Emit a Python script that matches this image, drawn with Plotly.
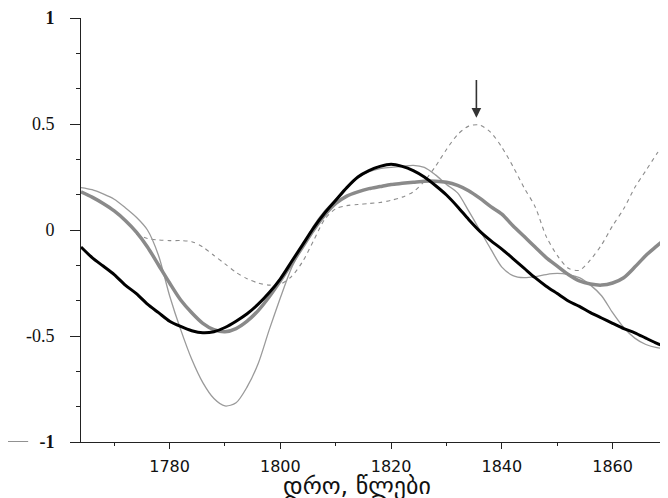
import plotly.graph_objects as go

years = list(range(1764, 1872, 2))

black_series = [-0.08, -0.13, -0.17, -0.21, -0.26, -0.30, -0.35, -0.39, -0.43, -0.455,
                -0.475, -0.485, -0.48, -0.46, -0.43, -0.395, -0.35, -0.295, -0.23, -0.15,
                -0.07, 0.01, 0.08, 0.14, 0.20, 0.25, 0.28, 0.30, 0.31, 0.30,
                0.28, 0.25, 0.21, 0.165, 0.11, 0.05, -0.005, -0.05, -0.09, -0.135,
                -0.18, -0.225, -0.265, -0.30, -0.335, -0.36, -0.39, -0.415, -0.44, -0.465,
                -0.485, -0.51, -0.535, -0.555]

thick_gray_series = [0.18, 0.155, 0.125, 0.09, 0.045, -0.01, -0.08, -0.165, -0.25, -0.33,
                     -0.39, -0.44, -0.47, -0.48, -0.465, -0.43, -0.38, -0.315, -0.24, -0.16,
                     -0.08, 0.0, 0.07, 0.125, 0.16, 0.18, 0.195, 0.205, 0.215, 0.22,
                     0.225, 0.23, 0.23, 0.225, 0.21, 0.185, 0.15, 0.11, 0.075, 0.02,
                     -0.03, -0.08, -0.13, -0.17, -0.21, -0.24, -0.255, -0.26, -0.25, -0.225,
                     -0.175, -0.12, -0.075, -0.03]

thin_gray_series = [0.20, 0.19, 0.17, 0.145, 0.105, 0.06, 0.0, -0.12, -0.31, -0.47,
                    -0.61, -0.72, -0.795, -0.83, -0.815, -0.74, -0.63, -0.47, -0.32, -0.18,
                    -0.08, 0.02, 0.09, 0.145, 0.20, 0.245, 0.275, 0.29, 0.295, 0.30,
                    0.305, 0.295, 0.26, 0.215, 0.175, 0.09, 0.0, -0.09, -0.175, -0.215,
                    -0.225, -0.22, -0.21, -0.205, -0.21, -0.225, -0.26, -0.31, -0.39, -0.46,
                    -0.51, -0.54, -0.555, -0.56]

dashed_years = list(range(1774, 1872, 2))
dashed_series = [-0.02, -0.04, -0.047, -0.05, -0.05, -0.055, -0.08, -0.12, -0.16, -0.20,
                 -0.23, -0.25, -0.26, -0.255, -0.22, -0.15, -0.05, 0.05, 0.10, 0.115,
                 0.12, 0.125, 0.13, 0.14, 0.155, 0.18, 0.23, 0.30, 0.38, 0.45,
                 0.49, 0.495, 0.46, 0.39, 0.30, 0.20, 0.11, -0.03, -0.12, -0.18,
                 -0.19, -0.14, -0.07, 0.02, 0.10, 0.20, 0.28, 0.36, 0.43]

x_tick_vals = [1780, 1800, 1820, 1840, 1860]
x_tick_text = ["1780", "1800", "1820", "1840", "1860"]
y_tick_vals = [-1, -0.5, 0, 0.5, 1]
y_tick_text = ["<b>-1</b>", "-0.5", "0", "0.5", "<b>1</b>"]
x_title = "დრო, წლები"
arrow_year = 1835.4
arrow_from = 0.715
arrow_to = 0.53

fig = go.Figure()
fig.add_trace(go.Scatter(x=dashed_years, y=dashed_series, mode="lines",
                         line=dict(color="#8c8c8c", width=1.1, dash="4px,4px", shape="spline", smoothing=0.8),
                         showlegend=False, hoverinfo="skip"))
fig.add_trace(go.Scatter(x=years, y=thin_gray_series, mode="lines",
                         line=dict(color="#9a9a9a", width=1.3, shape="spline", smoothing=0.8),
                         showlegend=False, hoverinfo="skip"))
fig.add_trace(go.Scatter(x=years, y=thick_gray_series, mode="lines",
                         line=dict(color="#8a8a8a", width=3.5, shape="spline", smoothing=0.8),
                         showlegend=False, hoverinfo="skip"))
fig.add_trace(go.Scatter(x=years, y=black_series, mode="lines",
                         line=dict(color="#000000", width=3, shape="spline", smoothing=0.8),
                         showlegend=False, hoverinfo="skip"))

fig.add_annotation(x=arrow_year, y=arrow_to, ax=arrow_year, ay=arrow_from,
                   xref="x", yref="y", axref="x", ayref="y", text="",
                   showarrow=True, arrowhead=2, arrowsize=1.2, arrowwidth=1.6, arrowcolor="#333333")

fig.add_annotation(x=0.470, y=-0.066, xref="paper", yref="paper", text=x_title,
                   showarrow=False, xanchor="center", yanchor="top",
                   font=dict(family="DejaVu Sans", size=24, color="#111111"))

fig.add_shape(type="line", xref="paper", yref="y", x0=-0.126, x1=-0.090, y0=-1, y1=-1,
              line=dict(color="#222222", width=1))

fig.update_layout(
    width=660, height=490,
    margin=dict(l=73, r=0, t=7, b=56),
    paper_bgcolor="white", plot_bgcolor="white",
    xaxis=dict(range=[1764, 1870], tickvals=x_tick_vals, ticktext=x_tick_text,
               showgrid=False, zeroline=False, showline=True, linecolor="#222222", linewidth=1,
               ticks="outside", ticklen=6, tickcolor="#222222", tickwidth=1,
               minor=dict(tick0=1770, dtick=20, ticks="outside", ticklen=3, tickcolor="#222222", tickwidth=1),
               tickfont=dict(family="DejaVu Sans", size=16, color="#111111"),
               ticklabelstandoff=4, ticklabeloverflow="allow"),
    yaxis=dict(range=[-1, 1], tickvals=y_tick_vals, ticktext=y_tick_text,
               showgrid=False, zeroline=False, showline=True, linecolor="#222222", linewidth=1,
               ticks="outside", ticklen=10, tickcolor="#222222", tickwidth=1,
               minor=dict(tick0=-1, dtick=1/6, ticks="outside", ticklen=4, tickcolor="#222222", tickwidth=1),
               tickfont=dict(family="Liberation Serif", size=18, color="#111111"),
               ticklabelstandoff=12, ticklabeloverflow="allow"),
)

fig.write_html("out.html")
